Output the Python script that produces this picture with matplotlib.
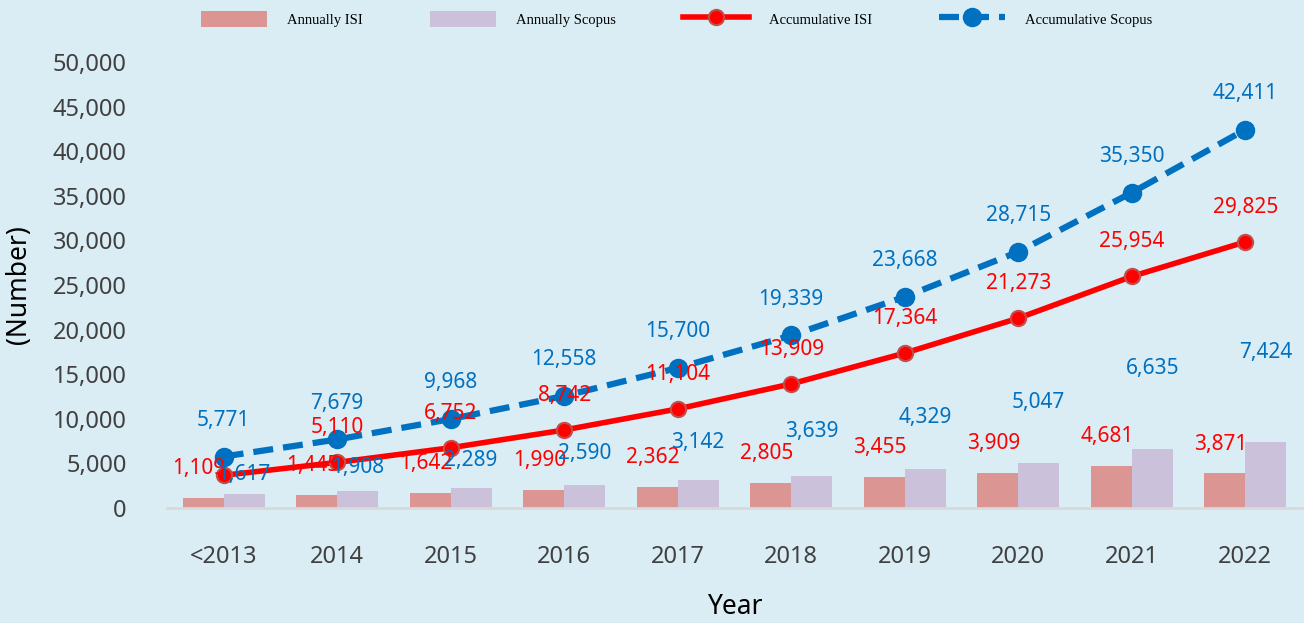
import numpy as np
import matplotlib.pyplot as plt
from matplotlib.ticker import FuncFormatter

## données

years = ['<2013', '2014', '2015', '2016', '2017', '2018', '2019', '2020', '2021', '2022']
annual_isi = [1109, 1445, 1642, 1990, 2362, 2805, 3455, 3909, 4681, 3871]
annual_scopus = [1617, 1908, 2289, 2590, 3142, 3639, 4329, 5047, 6635, 7424]
accum_isi = [3665, 5110, 6752, 8742, 11104, 13909, 17364, 21273, 25954, 29825]
accum_scopus = [5771, 7679, 9968, 12558, 15700, 19339, 23668, 28715, 35350, 42411]
show_accum_isi_label = [False, True, True, True, True, True, True, True, True, True]

bg = '#DBEDF4'
c_bar_isi = '#DB9694'
c_bar_sco = '#CBC1DA'
c_red = '#FF0000'
c_blue = '#0070C0'

plt.rcParams['font.family'] = ['Noto Sans', 'DejaVu Sans']

fig = plt.figure(figsize=(13.04, 6.23), dpi=100, facecolor=bg)
ax = fig.add_axes([0.128, 0.1846, 0.8705, 0.716])
ax.set_facecolor(bg)

x = np.arange(len(years))
w = 0.36

b1 = ax.bar(x - w/2, annual_isi, w, color=c_bar_isi, label='Annually ISI', zorder=2)
b2 = ax.bar(x + w/2, annual_scopus, w, color=c_bar_sco, label='Annually Scopus', zorder=2)

l1, = ax.plot(x, accum_isi, color=c_red, lw=4, marker='o', ms=11, mfc=c_red,
              mec='#C0504D', mew=1.5, label='Accumulative ISI', zorder=4)
l2, = ax.plot(x, accum_scopus, color=c_blue, lw=4.5, ls=(0, (3.2, 1.6)), marker='o', ms=13,
              mfc=c_blue, mec=c_blue, label='Accumulative Scopus', zorder=3)

# étiquettes
for i in range(len(x)):
    ax.annotate(f'{annual_isi[i]:,}', (x[i] - w/2, annual_isi[i] + 3300), xytext=(-3, 0),
                textcoords='offset points', ha='center', va='center', color=c_red,
                fontsize=15, zorder=5)
    ax.annotate(f'{annual_scopus[i]:,}', (x[i] + w/2, annual_scopus[i] * 2.35), ha='center',
                va='center', color=c_blue, fontsize=15, zorder=5)
    ax.annotate(f'{accum_scopus[i]:,}', (x[i], accum_scopus[i]), xytext=(0, 26),
                textcoords='offset points', ha='center', va='center', color=c_blue,
                fontsize=15, zorder=5)
    if show_accum_isi_label[i]:
        ax.annotate(f'{accum_isi[i]:,}', (x[i], accum_isi[i]), xytext=(0, 25),
                    textcoords='offset points', ha='center', va='center', color=c_red,
                    fontsize=15, zorder=5)

ax.set_xlim(-0.5, len(years) - 0.5)
ax.set_ylim(0, 50000)
ax.set_yticks(np.arange(0, 50001, 5000))
ax.yaxis.set_major_formatter(FuncFormatter(lambda v, p: f'{int(v):,}'))
ax.set_xticks(x)
ax.set_xticklabels(years)
ax.tick_params(axis='y', length=0, pad=29, labelsize=17, labelcolor='#404040')
ax.tick_params(axis='x', length=0, pad=27, labelsize=17, labelcolor='#404040')

for s in ['top', 'right', 'left']:
    ax.spines[s].set_visible(False)
ax.spines['bottom'].set_color('#D9D9D9')
ax.spines['bottom'].set_linewidth(2)

ax.set_ylabel('(Number)', fontsize=19)
ax.yaxis.set_label_coords(-0.118, 0.5)
ax.set_xlabel('Year', fontsize=19)
ax.xaxis.set_label_coords(0.5, -0.19)

fig.legend([b1, b2, l1, l2], ['Annually ISI', 'Annually Scopus', 'Accumulative ISI', 'Accumulative Scopus'],
           loc='center', bbox_to_anchor=(677/1304, 1 - 19/623), ncol=4, frameon=False,
           prop={'family': 'Liberation Serif', 'size': 10.5}, handlelength=4.5,
           handleheight=1.3, handletextpad=1.4, columnspacing=4.6)

plt.savefig('out.png', dpi=100, facecolor=bg)
